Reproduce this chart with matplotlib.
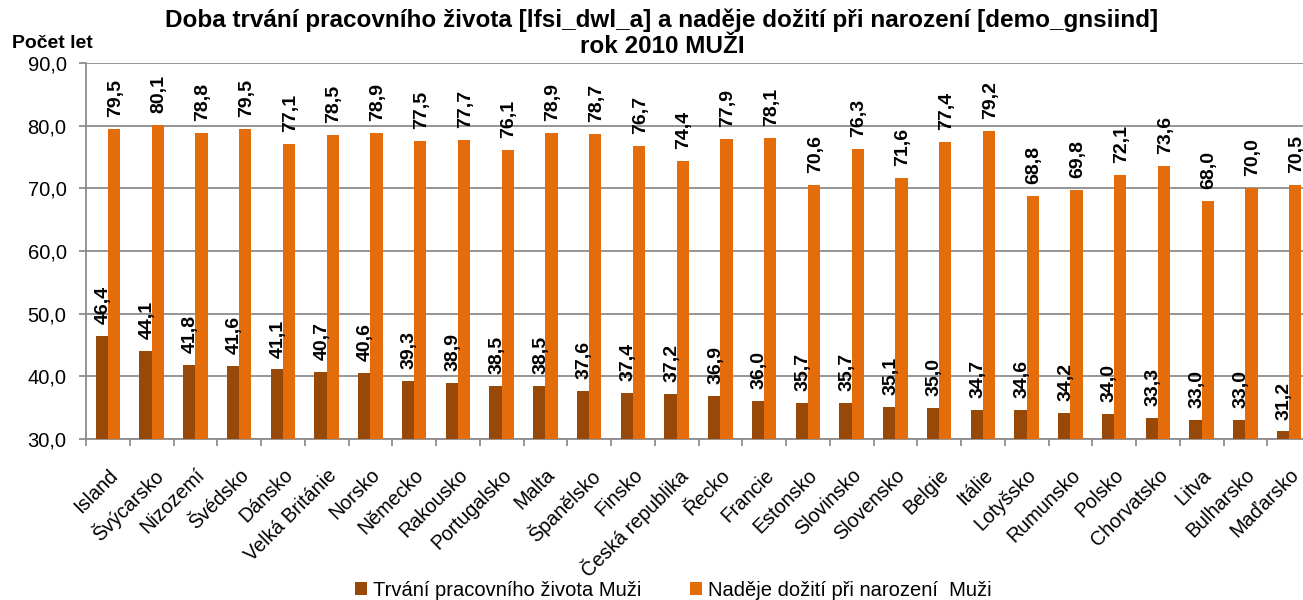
import matplotlib
matplotlib.use("Agg")
import matplotlib.pyplot as plt
import matplotlib.transforms as mtransforms
import numpy as np

countries = ["Island", "Švýcarsko", "Nizozemí", "Švédsko", "Dánsko", "Velká Británie",
             "Norsko", "Německo", "Rakousko", "Portugalsko", "Malta", "Španělsko",
             "Finsko", "Česká republika", "Řecko", "Francie", "Estonsko", "Slovinsko",
             "Slovensko", "Belgie", "Itálie", "Lotyšsko", "Rumunsko", "Polsko",
             "Chorvatsko", "Litva", "Bulharsko", "Maďarsko"]
working_life = [46.4, 44.1, 41.8, 41.6, 41.1, 40.7, 40.6, 39.3, 38.9, 38.5, 38.5, 37.6,
                37.4, 37.2, 36.9, 36.0, 35.7, 35.7, 35.1, 35.0, 34.7, 34.6, 34.2, 34.0,
                33.3, 33.0, 33.0, 31.2]
life_expectancy = [79.5, 80.1, 78.8, 79.5, 77.1, 78.5, 78.9, 77.5, 77.7, 76.1, 78.9, 78.7,
                   76.7, 74.4, 77.9, 78.1, 70.6, 76.3, 71.6, 77.4, 79.2, 68.8, 69.8, 72.1,
                   73.6, 68.0, 70.0, 70.5]
series_names = ["Trvání pracovního života Muži", "Naděje dožití při narození  Muži"]
title = "Doba trvání pracovního života [lfsi_dwl_a] a naděje dožití při narození [demo_gnsiind]\nrok 2010 MUŽI"

plt.rcParams['font.family'] = ['Liberation Sans', 'DejaVu Sans']

W, H = 1303, 600
fig = plt.figure(figsize=(W / 100, H / 100), dpi=100)
left, right, top, bottom = 86, 1311, 63, 439
ax = fig.add_axes([left / W, 1 - bottom / H, (right - left) / W, (bottom - top) / H])

dark = '#984807'
orange = '#E46C0A'
x = np.arange(len(countries))
bw = 0.28
base = 30
ax.bar(x - bw / 2, np.array(working_life) - base, bw, bottom=base, color=dark,
       label=series_names[0], zorder=3)
ax.bar(x + bw / 2, np.array(life_expectancy) - base, bw, bottom=base, color=orange,
       label=series_names[1], zorder=3)

for xi, v in zip(x, working_life):
    ax.text(xi - bw / 2 + 0.03, v + 1.9, f"{v:.1f}".replace('.', ','), rotation=90,
            ha='center', va='bottom', fontsize=14, fontweight='bold', zorder=4)
for xi, v in zip(x, life_expectancy):
    ax.text(xi + bw / 2 + 0.03, v + 1.9, f"{v:.1f}".replace('.', ','), rotation=90,
            ha='center', va='bottom', fontsize=14, fontweight='bold', zorder=4)

ax.set_xlim(-0.5, len(countries) - 0.5)
ax.set_ylim(30, 90)
ax.set_yticks(np.arange(30, 91, 10))
ax.set_yticklabels([f"{t:.1f}".replace('.', ',') for t in np.arange(30, 91, 10)], fontsize=14.5)
ax.yaxis.grid(True, color='#8c8c8c', linewidth=1.3, zorder=0)
ax.set_axisbelow(True)

ax.set_xticks(x)
ax.set_xticklabels(countries, rotation=45, ha='right', rotation_mode='anchor', fontsize=14.2)
shift = mtransforms.ScaledTranslation(-5 / 100, 0, fig.dpi_scale_trans)
for lab in ax.get_xticklabels():
    lab.set_transform(lab.get_transform() + shift)
ax.set_xticks(np.arange(-0.5, len(countries), 1), minor=True)
ax.tick_params(axis='x', which='major', length=0, pad=19)
ax.tick_params(axis='x', which='minor', length=5, color='#8c8c8c', width=1.3)
ax.tick_params(axis='y', length=5, color='#8c8c8c', width=1.3, pad=9)

for s in ['top', 'right']:
    ax.spines[s].set_visible(False)
for s in ['left', 'bottom']:
    ax.spines[s].set_color('#8c8c8c')
    ax.spines[s].set_linewidth(1.3)

fig.text(662 / W, 1 - 8 / H, title, ha='center', va='top', fontsize=17.5,
         fontweight='bold', linespacing=1.2)
fig.text(12 / W, 1 - 43 / H, "Počet let", ha='left', va='center', fontsize=14,
         fontweight='bold')

fig.legend(loc='center', bbox_to_anchor=(0.517, 1 - 590 / H), ncol=2, frameon=False,
           fontsize=14.5, handlelength=0.6, handleheight=0.6, columnspacing=2.4,
           handletextpad=0.3)

fig.savefig("out.png", dpi=100)
